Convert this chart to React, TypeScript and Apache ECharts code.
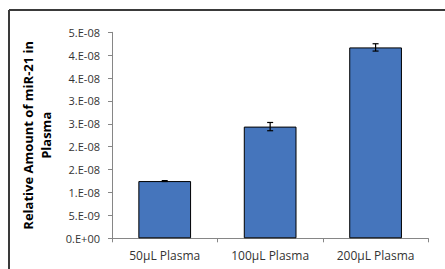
import React, { useEffect, useRef } from "react";
import * as echarts from "echarts";

const categories = ["50µL Plasma", "100µL Plasma", "200µL Plasma"];
const values = [1.25e-8, 2.44e-8, 4.17e-8];
const errors = [1.0e-10, 9.0e-10, 8.0e-10];
const yMin = 0;
const yMax = 4.5e-8;
const yInterval = 5e-9;
const yTitle = "Relative Amount of miR-21 in\nPlasma";

function excelSci(v: number): string {
  if (Math.abs(v) < 1e-20) return "0.E+00";
  let exp = Math.floor(Math.log10(Math.abs(v)) + 1e-9);
  let m = Math.round(v / Math.pow(10, exp) + 1e-9);
  if (m >= 10) {
    m = 1;
    exp += 1;
  }
  const sign = exp < 0 ? "-" : "+";
  const e = String(Math.abs(exp)).padStart(2, "0");
  return `${m}.E${sign}${e}`;
}

export default function App() {
  const ref = useRef<HTMLDivElement>(null);
  useEffect(() => {
    if (!ref.current) return;
    const chart = echarts.init(ref.current, undefined, { renderer: "svg" });
    const font = "'Open Sans', sans-serif";
    chart.setOption({
      animation: false,
      backgroundColor: "#ffffff",
      grid: { left: 112, top: 32.3, width: 316.3, height: 206, containLabel: false },
      xAxis: {
        type: "category",
        data: categories,
        axisLine: { lineStyle: { color: "#868686", width: 1 } },
        axisTick: { show: true, alignWithLabel: false, length: 4, inside: false, lineStyle: { color: "#868686" } },
        axisLabel: { color: "#333333", fontFamily: font, fontSize: 12, margin: 11 },
        splitLine: { show: false },
      },
      yAxis: {
        type: "value",
        min: yMin,
        max: yMax,
        interval: yInterval,
        name: yTitle,
        nameLocation: "middle",
        nameGap: 44,
        nameRotate: 90,
        nameTextStyle: { fontFamily: font, fontSize: 13, fontWeight: "bold", color: "#000000", lineHeight: 18 },
        axisLine: { show: true, lineStyle: { color: "#868686", width: 1 } },
        axisTick: { show: true, length: 4, lineStyle: { color: "#868686" } },
        axisLabel: { color: "#333333", fontFamily: font, fontSize: 11, margin: 12, formatter: (v: number) => excelSci(v) },
        splitLine: { show: false },
      },
      graphic: [
        { type: "line", shape: { x1: 9, y1: 10, x2: 9, y2: 269 }, style: { stroke: "#3a3a3a", lineWidth: 2 } },
        { type: "line", shape: { x1: 9, y1: 10, x2: 445, y2: 10 }, style: { stroke: "#3a3a3a", lineWidth: 2 } },
      ],
      series: [
        {
          type: "bar",
          data: values,
          barWidth: "50%",
          itemStyle: { color: "#4575BC", borderColor: "#000000", borderWidth: 1 },
        },
        {
          type: "custom",
          data: values.map((v, i) => [i, v - errors[i], v + errors[i]]),
          renderItem: (params: any, api: any) => {
            const x = api.value(0);
            const lo = api.coord([x, api.value(1)]);
            const hi = api.coord([x, api.value(2)]);
            const cap = 3;
            const style = { stroke: "#000000", lineWidth: 1.2 };
            return {
              type: "group",
              children: [
                { type: "line", shape: { x1: lo[0], y1: lo[1], x2: hi[0], y2: hi[1] }, style },
                { type: "line", shape: { x1: lo[0] - cap, y1: lo[1], x2: lo[0] + cap, y2: lo[1] }, style },
                { type: "line", shape: { x1: hi[0] - cap, y1: hi[1], x2: hi[0] + cap, y2: hi[1] }, style },
              ],
            };
          },
          z: 10,
        },
      ],
    });
    return () => chart.dispose();
  }, []);
  return <div ref={ref} style={{ position: "absolute", left: 0, top: 0, width: 445, height: 269 }} />;
}
